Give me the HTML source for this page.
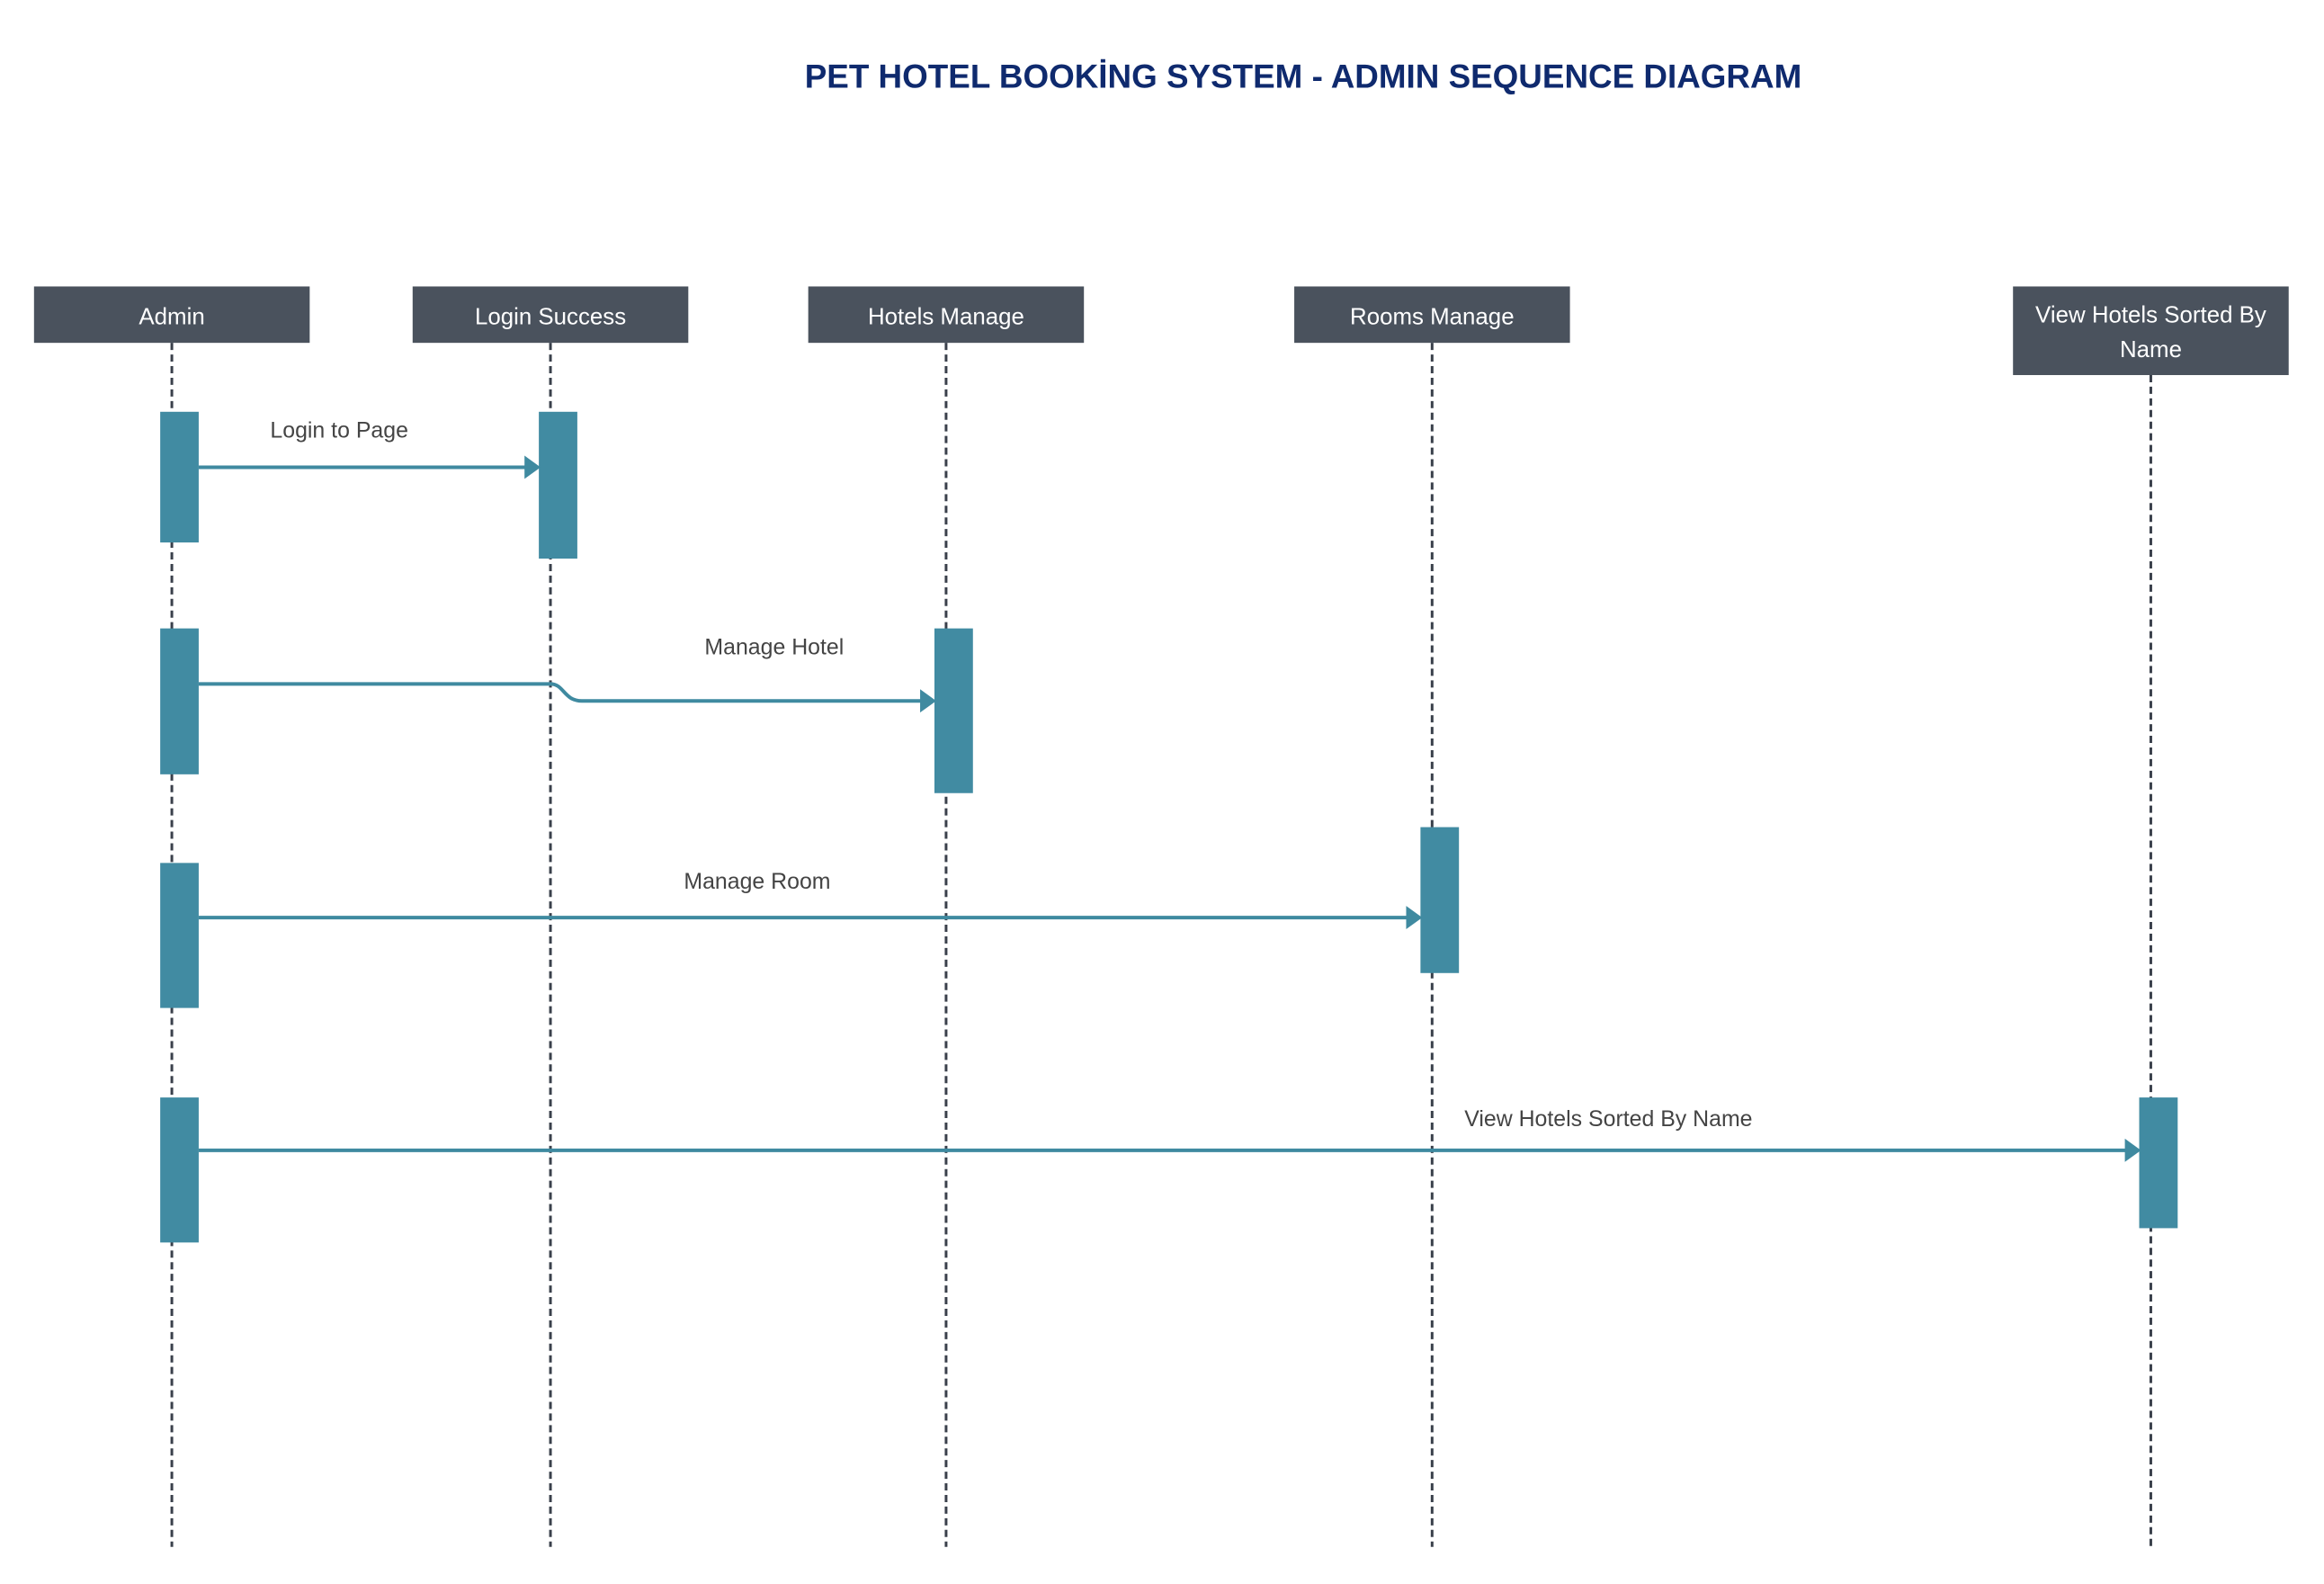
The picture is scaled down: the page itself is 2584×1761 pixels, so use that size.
<!DOCTYPE html>
<html><head><meta charset="utf-8"><style>
html,body{margin:0;padding:0;background:#fff}
svg{display:block}
text{font-family:"Liberation Sans",sans-serif}
</style></head><body>
<svg width="2584" height="1761" xmlns="http://www.w3.org/2000/svg">
<g id="d" transform="scale(0.9952)">
<text x="1456" y="98" text-anchor="middle" font-size="37" font-weight="bold" fill="#0f2a6e">PET HOTEL BOOKİNG SYSTEM - ADMIN  SEQUENCE DIAGRAM</text>
</g>
</svg>
<script>
const participants=["Admin","Login Success","Hotels Manage","Rooms Manage","View Hotels Sorted By Name"];
const lifeX=[192,615,1057,1600,2403];
const messages=["Login to Page","Manage Hotel","Manage Room","View Hotels Sorted By Name"];
const msgTarget=[1,2,3,4];
const msgY=[522,764,1025,1285];
const srcBars=[[460,606],[702,865],[964,1126],[1226,1388]];
const tgtBars=[[460,624],[702,886],[924,1087],[1226,1372]];
const NS="http://www.w3.org/2000/svg";
const svg=document.getElementById('d');
function mk(t,a){const e=document.createElementNS(NS,t);for(const k in a)e.setAttribute(k,a[k]);svg.appendChild(e);return e;}
participants.forEach((p,i)=>{
  const x=lifeX[i];const tall=i===4;
  const l=mk('line',{x1:x,y1:tall?419:383,x2:x,y2:1728,stroke:'#3a404b','stroke-width':3,'stroke-dasharray':'8,5'});
  
  
  const r=mk('rect',{x:x-154,y:320,width:308,height:tall?99:63,fill:'#4a525d'});
  
  
  if(tall){
    const t=mk('text',{x:x,y:360,'text-anchor':'middle','font-size':26,fill:'#fff'});t.textContent='View Hotels Sorted By';
    
    
    const t2=mk('text',{x:x,y:399,'text-anchor':'middle','font-size':26,fill:'#fff'});t2.textContent='Name';
    
    
  }else{
    const t=mk('text',{x:x,y:362,'text-anchor':'middle','font-size':26,fill:'#fff'});t.textContent=p;
    
    
  }
});
messages.forEach((m,i)=>{
  const s=srcBars[i],tb=tgtBars[i],tx=lifeX[msgTarget[i]],y=msgY[i];
  const a=mk('rect',{x:lifeX[0]-13,y:s[0],width:43,height:s[1]-s[0],fill:'#418ba2'});
  
  
  const b=mk('rect',{x:tx-13,y:tb[0],width:43,height:tb[1]-tb[0],fill:'#418ba2'});
  
  
  const x0=lifeX[0]+30,x1=tx-13;
  let d,ay=y;
  if(i===1){ay=y+19;const jx=lifeX[1];d=`M${x0},${y} L${jx},${y} C${jx+15},${y} ${jx+15},${ay} ${jx+35},${ay} L${x1-14},${ay}`;}
  else d=`M${x0},${y} L${x1-14},${y}`;
  const p=mk('path',{d:d,fill:'none',stroke:'#3f8aa0','stroke-width':4});
  
  
  const h=mk('polygon',{points:`${x1-16},${ay-13} ${x1+2},${ay} ${x1-16},${ay+13}`,fill:'#3f8aa0'});
  
  
  const lx=[379,865,846,1797][i],ly=[489,731,993,1258][i];
  const t=mk('text',{x:lx,y:ly,'text-anchor':'middle','font-size':25,fill:'#444'});t.textContent=m;
  
  
});
</script>
</body></html>
